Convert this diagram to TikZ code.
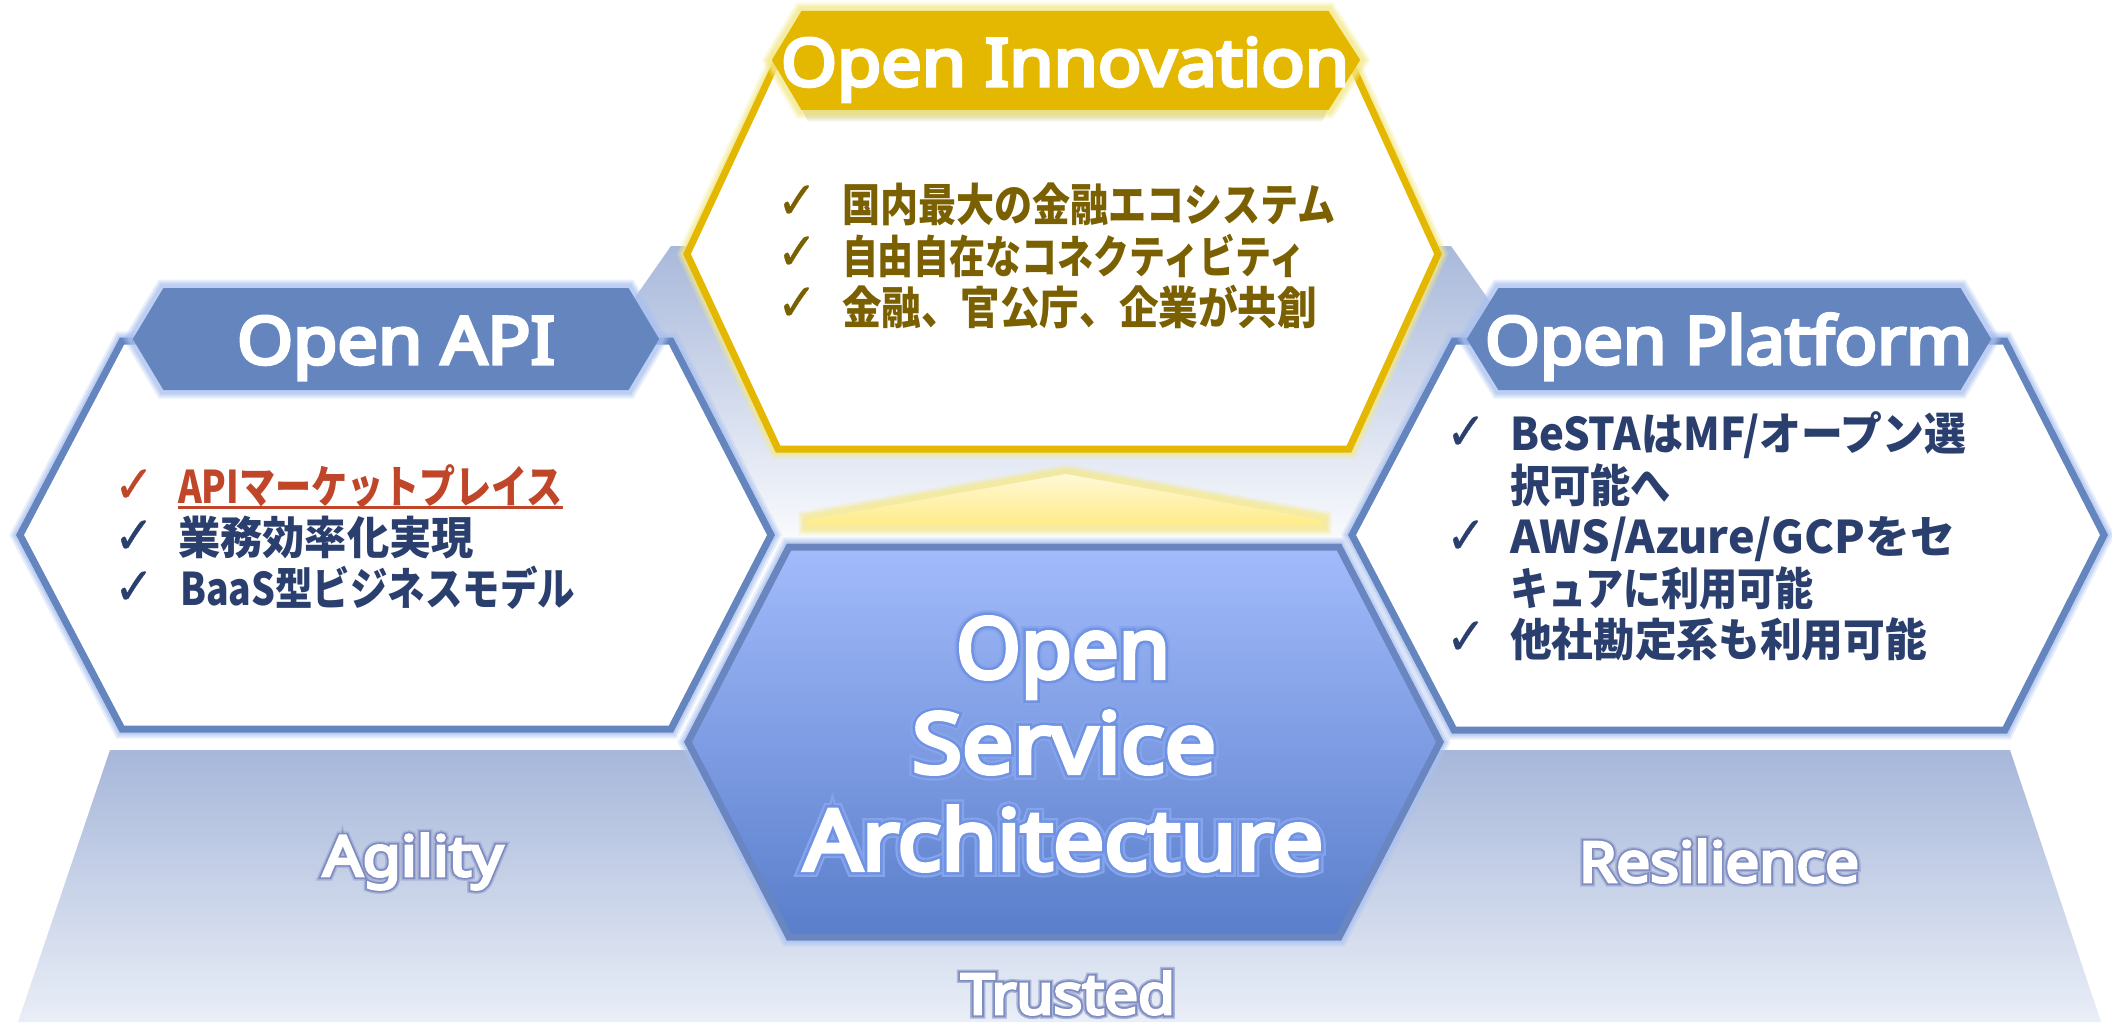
\documentclass[tikz,border=0pt]{standalone}
\usepackage{fontspec}
\usepackage{graphicx}
\newfontfamily\latf[FakeBold=5]{Noto Sans}
\newfontfamily\latgA[FakeBold=16]{Noto Sans}
\newfontfamily\latgB[FakeBold=11]{Noto Sans}
\newfontfamily\cjkf{Noto Sans CJK JP}
\newfontfamily\chkf[FakeBold=0.6]{DejaVu Sans}
\definecolor{blueedge}{HTML}{6585BF}
\definecolor{blueglow}{HTML}{A9C1F0}
\definecolor{goldedge}{HTML}{E4B700}
\definecolor{goldglow}{HTML}{F5E98A}
\definecolor{coredge}{HTML}{6A86C0}
\definecolor{navytxt}{HTML}{2B3F6E}
\definecolor{redtxt}{HTML}{C0462A}
\definecolor{browntxt}{HTML}{7A6000}
\definecolor{lblA}{HTML}{A9B5D8}
\definecolor{lblB}{HTML}{7F8CC0}
\definecolor{corA}{HTML}{86A4EA}
\definecolor{corB}{HTML}{7092E2}
\tikzset{
  softglow/.style={
    preaction={draw=#1,line width=9.5pt,opacity=.25},
    preaction={draw=#1,line width=7.5pt,opacity=.35},
    preaction={draw=#1,line width=5.5pt,opacity=.5}},
  bluehex/.style={softglow=blueglow,draw=blueedge,line width=3.5pt,fill=white},
  goldhex/.style={softglow=goldglow,draw=goldedge,line width=3.5pt,fill=white},
  bluehead/.style={softglow=blueglow,draw=blueedge,line width=1pt,fill=blueedge},
  goldhead/.style={softglow=goldglow,draw=goldedge,line width=1pt,fill=goldedge},
  txt/.style={inner sep=0pt,outer sep=0pt,anchor=base west},
  chk/.style={inner sep=0pt,outer sep=0pt,anchor=center}
}
% name, x, baseline, width px, font, colour, text
\newcommand{\tline}[7]{\node[txt,text=#6] (#1) at (#2,#3) {\resizebox{\dimexpr #4pt/2\relax}{\height}{#5#7}};}
\newcommand{\jp}{\cjkf\bfseries\fontsize{22.5}{22.5}\selectfont}
\newcommand{\head}{\latf\fontsize{33}{33}\selectfont}
\newcommand{\chkmark}[4]{\node[chk,text=#4] (#1) at (#2,#3) {\resizebox{20pt}{\height}{\chkf\fontsize{26}{26}\selectfont ✓}};}
% glow text: two emboldened layers beneath a white face
\newcommand{\glowtxt}[6]{\node[txt] (#1) at (#2,#3) {\resizebox{\dimexpr #4pt/2\relax}{\height}{\fontsize{#5}{#5}\selectfont
  \rlap{\latgA\fontsize{#5}{#5}\selectfont\color{\glowA}#6}\rlap{\latgB\fontsize{#5}{#5}\selectfont\color{\glowB}#6}\latf\fontsize{#5}{#5}\selectfont\color{white}#6}};}
\newcommand{\glowA}{lblA}\newcommand{\glowB}{lblB}
\begin{document}
\begin{tikzpicture}[x=0.5pt,y=-0.5pt]
\useasboundingbox (0,0) rectangle (2112,1022);
\fill[white] (0,0) rectangle (2112,1022);
% backdrop trapezoids
\path[shade,top color={rgb,255:red,169;green,185;blue,219},bottom color=white]
  (671,246) -- (1451,246) -- (1671,560) -- (451,560) -- cycle;
\path[shade,top color={rgb,255:red,167;green,183;blue,218},bottom color={rgb,255:red,233;green,238;blue,247}]
  (110,750) -- (2010,750) -- (2101,1022) -- (18,1022) -- cycle;
% side hexagons
\draw[bluehex] (20,535) -- (122,341) -- (671,341) -- (771,535) -- (671,729) -- (122,729) -- cycle;
\draw[bluehex] (1352,535) -- (1454,341) -- (2005,341) -- (2104,535) -- (2005,730) -- (1454,730) -- cycle;
% core hexagon
\path[softglow=blueglow,draw=coredge,line width=3.5pt,top color={rgb,255:red,162;green,187;blue,251},bottom color={rgb,255:red,90;green,126;blue,203}]
  (688,742) -- (789,547) -- (1339,547) -- (1440,742) -- (1339,937) -- (789,937) -- cycle;
% gold hexagon
\draw[goldhex] (687,254) -- (778,59) -- (1349,59) -- (1438,254) -- (1349,449) -- (778,449) -- cycle;
% yellow roof
\path[softglow=goldglow,top color={rgb,255:red,255;green,248;blue,214},bottom color={rgb,255:red,255;green,236;blue,138}]
  (808,520) -- (1066,474) -- (1322,520) -- (1322,525) -- (808,525) -- cycle;
% header soft shadow of the gold band
\path[shade,top color={rgb,255:red,190;green,182;blue,120},bottom color=white] (802,109) -- (1328,109) -- (1322,122) -- (808,122) -- cycle;
% headers
\draw[goldhead] (773,60) -- (802,12) -- (1328,12) -- (1359,60) -- (1328,109) -- (802,109) -- cycle;
\draw[bluehead] (134,339) -- (164,289) -- (628,289) -- (658,339) -- (628,389) -- (164,389) -- cycle;
\draw[bluehead] (1468,339) -- (1499,289) -- (1960,289) -- (1990,339) -- (1960,389) -- (1499,389) -- cycle;
\tline{hInno}{781}{86}{568}{\head}{white}{Open Innovation}
\tline{hApi}{237}{364}{318}{\head}{white}{Open API}
\tline{hPlat}{1485}{364}{487}{\head}{white}{Open Platform}
% gold list
\chkmark{g1}{797}{202}{browntxt}\chkmark{g2}{797}{253}{browntxt}\chkmark{g3}{797}{304}{browntxt}
\tline{gt1}{842}{221}{494}{\jp}{browntxt}{国内最大の金融エコシステム}
\tline{gt2}{842}{273}{463}{\jp}{browntxt}{自由自在なコネクティビティ}
\tline{gt3}{842}{324}{475}{\jp}{browntxt}{金融、官公庁、企業が共創}
% left list
\chkmark{a1}{134}{486}{redtxt}\chkmark{a2}{134}{537}{navytxt}\chkmark{a3}{134}{588}{navytxt}
\node[txt,text=redtxt] (at1) at (178,503) {\resizebox{192.5pt}{\height}{\jp APIマーケットプレイス}};
\draw[redtxt,line width=1.5pt] (at1.base west) ++(0,4) -- ++(385,0);
\tline{at2}{178}{554}{296}{\jp}{navytxt}{業務効率化実現}
\tline{at3}{180}{605}{395}{\jp}{navytxt}{BaaS型ビジネスモデル}
% right list
\chkmark{p1}{1466}{433}{navytxt}\chkmark{p2}{1466}{537}{navytxt}\chkmark{p3}{1466}{638}{navytxt}
\tline{pt1}{1510}{450}{456}{\jp}{navytxt}{BeSTAはMF/オープン選}
\tline{pt2}{1510}{502}{161}{\jp}{navytxt}{択可能へ}
\tline{pt3}{1510}{553}{445}{\jp}{navytxt}{AWS/Azure/GCPをセ}
\tline{pt4}{1510}{605}{304}{\jp}{navytxt}{キュアに利用可能}
\tline{pt5}{1510}{656}{417}{\jp}{navytxt}{他社勘定系も利用可能}
% labels with outline
\glowtxt{lAg}{323}{876}{180}{28}{Agility}
\glowtxt{lRe}{1579}{882}{280}{28}{Resilience}
\glowtxt{lTr}{961}{1014}{214}{28}{Trusted}
% core text
\renewcommand{\glowA}{corA}\renewcommand{\glowB}{corB}
\glowtxt{c1}{956}{678}{214}{42}{Open}
\glowtxt{c2}{912}{773}{304}{42}{Service}
\glowtxt{c3}{804}{870}{519}{42}{Architecture}
\end{tikzpicture}
\end{document}
